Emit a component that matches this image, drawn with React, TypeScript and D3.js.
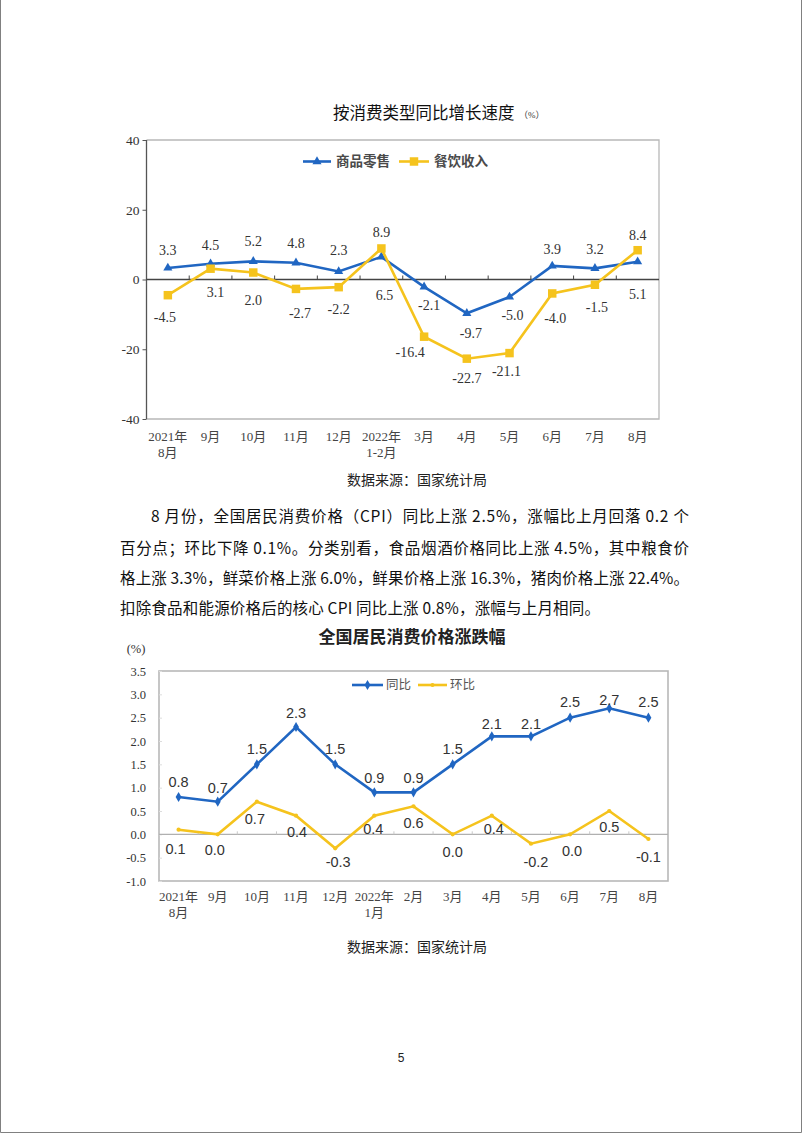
import React, { useEffect, useRef } from 'react';
import * as d3 from 'd3';

// chart 1: 按消费类型同比增长速度
const months1 = [
  ['2021年', '8月'], ['9月'], ['10月'], ['11月'], ['12月'], ['2022年', '1-2月'],
  ['3月'], ['4月'], ['5月'], ['6月'], ['7月'], ['8月'],
];
const retail = [3.3, 4.5, 5.2, 4.8, 2.3, 6.5, -2.1, -9.7, -5.0, 3.9, 3.2, 5.1];
const catering = [-4.5, 3.1, 2.0, -2.7, -2.2, 8.9, -16.4, -22.7, -21.1, -4.0, -1.5, 8.4];
const yTicks1 = [-40, -20, 0, 20, 40];

// chart 2: 全国居民消费价格涨跌幅
const months2 = [
  ['2021年', '8月'], ['9月'], ['10月'], ['11月'], ['12月'], ['2022年', '1月'],
  ['2月'], ['3月'], ['4月'], ['5月'], ['6月'], ['7月'], ['8月'],
];
const yoy = [0.8, 0.7, 1.5, 2.3, 1.5, 0.9, 0.9, 1.5, 2.1, 2.1, 2.5, 2.7, 2.5];
const mom = [0.1, 0.0, 0.7, 0.4, -0.3, 0.4, 0.6, 0.0, 0.4, -0.2, 0.0, 0.5, -0.1];
const yTicks2 = [-1.0, -0.5, 0.0, 0.5, 1.0, 1.5, 2.0, 2.5, 3.0, 3.5];

const paragraph = [
  '8 月份，全国居民消费价格（CPI）同比上涨 2.5%，涨幅比上月回落 0.2 个',
  '百分点；环比下降 0.1%。分类别看，食品烟酒价格同比上涨 4.5%，其中粮食价',
  '格上涨 3.3%，鲜菜价格上涨 6.0%，鲜果价格上涨 16.3%，猪肉价格上涨 22.4%。',
  '扣除食品和能源价格后的核心 CPI 同比上涨 0.8%，涨幅与上月相同。',
];

// label placement (dx, dy from the point), layout only
const retailOff = [[0, -18], [0, -19], [0, -20], [0, -20], [0, -21], [3, 38], [5, 18], [4, 20], [3, 18], [0, -17], [0, -19], [0, 32]];
const cateringOff = [[-3, 22], [5, 23], [0, 28], [4, 24], [0, 22], [0, -16], [-14, 15], [0, 19], [-3, 18], [3, 25], [2, 22], [0, -15]];
const yoyOff = [[0, -15], [0, -14], [0, -15], [0, -14], [0, -15], [0, -14], [0, -14], [0, -15], [0, -12], [0, -12], [0, -16], [0, -8], [0, -16]];
const momOff = [[-3, 19], [-3, 16], [-2, 17], [1, 16], [3, 14], [-1, 13], [0, 17], [0, 18], [2, 13], [5, 18], [2, 17], [0, 16], [0, 18]];

const BLUE = '#2066c2';
const YELLOW = '#f5c31d';
const SERIF = "'Liberation Serif', 'Noto Sans CJK SC', serif";
const SANS = "'Noto Sans CJK SC', 'Liberation Sans', sans-serif";
const fmt = (v: number) => v.toFixed(1);

const App = () => {
  const svgRef = useRef<SVGSVGElement>(null);

  useEffect(() => {
    const svg = d3.select(svgRef.current);
    svg.selectAll('*').remove();

    // page border
    svg.append('path')
      .attr('d', 'M0.5,0 V1132.5 H801.5 V0')
      .attr('fill', 'none')
      .attr('stroke', '#808080');

    // ---------- chart 1 ----------
    const c1 = { left: 146.5, right: 659, top: 140, bottom: 419 };
    const x1 = d3.scaleBand<number>().domain(d3.range(months1.length)).range([c1.left, c1.right]);
    const y1 = d3.scaleLinear().domain([-40, 40]).range([c1.bottom, c1.top]);
    const cx1 = (i: number) => (x1(i) as number) + x1.bandwidth() / 2;

    const g1 = svg.append('g');

    g1.append('text')
      .attr('x', 333).attr('y', 119)
      .attr('font-family', SERIF).attr('font-size', 16.5).attr('fill', '#111')
      .text('按消费类型同比增长速度');
    g1.append('text')
      .attr('x', 519).attr('y', 118)
      .attr('font-family', SERIF).attr('font-size', 9).attr('fill', '#333')
      .text('（%）');

    // frame
    g1.append('path')
      .attr('d', `M${c1.left},${c1.top} H${c1.right} V${c1.bottom} H${c1.left}`)
      .attr('fill', 'none').attr('stroke', '#b8b8b8').attr('stroke-width', 1.3);
    g1.append('line')
      .attr('x1', c1.left).attr('x2', c1.left).attr('y1', c1.top).attr('y2', c1.bottom)
      .attr('stroke', '#555').attr('stroke-width', 1.3);

    const ax1 = g1.append('g')
      .attr('transform', `translate(${c1.left},0)`)
      .call(d3.axisLeft(y1).tickValues(yTicks1).tickSize(4).tickPadding(3).tickFormat((d) => String(d)));
    ax1.select('.domain').remove();
    ax1.selectAll('line').attr('stroke', '#555');
    ax1.selectAll('text').attr('font-family', SERIF).attr('font-size', 13.5).attr('fill', '#333');

    // zero line with category ticks
    g1.append('line')
      .attr('x1', c1.left).attr('x2', c1.right).attr('y1', y1(0)).attr('y2', y1(0))
      .attr('stroke', '#444').attr('stroke-width', 1.3);
    g1.selectAll('.zt')
      .data(d3.range(1, months1.length))
      .enter().append('line')
      .attr('x1', (i) => x1(i) as number).attr('x2', (i) => x1(i) as number)
      .attr('y1', y1(0)).attr('y2', y1(0) - 4)
      .attr('stroke', '#444');

    // x labels
    months1.forEach((lines, i) => {
      lines.forEach((t, k) => {
        g1.append('text')
          .attr('x', cx1(i)).attr('y', 440.5 + k * 16)
          .attr('text-anchor', 'middle')
          .attr('font-family', SERIF).attr('font-size', 13).attr('fill', '#444')
          .text(t);
      });
    });

    const line1 = d3.line<number>().x((_, i) => cx1(i)).y((d) => y1(d));

    g1.append('path').datum(retail)
      .attr('fill', 'none').attr('stroke', BLUE).attr('stroke-width', 2.6).attr('d', line1);
    g1.selectAll('.tri').data(retail).enter().append('path')
      .attr('d', d3.symbol(d3.symbolTriangle, 36)())
      .attr('transform', (d, i) => `translate(${cx1(i)},${y1(d)})`)
      .attr('fill', BLUE);

    g1.append('path').datum(catering)
      .attr('fill', 'none').attr('stroke', YELLOW).attr('stroke-width', 2.6).attr('d', line1);
    g1.selectAll('.sq').data(catering).enter().append('path')
      .attr('d', d3.symbol(d3.symbolSquare, 72)())
      .attr('transform', (d, i) => `translate(${cx1(i)},${y1(d)})`)
      .attr('fill', YELLOW);

    const labels1 = (vals: number[], off: number[][]) => {
      g1.selectAll(null).data(vals).enter().append('text')
        .attr('x', (d, i) => cx1(i) + off[i][0])
        .attr('y', (d, i) => y1(d) + off[i][1])
        .attr('dy', '0.35em')
        .attr('text-anchor', 'middle')
        .attr('font-family', SERIF).attr('font-size', 14).attr('fill', '#333')
        .text((d) => fmt(d));
    };
    labels1(retail, retailOff);
    labels1(catering, cateringOff);

    // legend 1
    const lg1 = g1.append('g').attr('transform', 'translate(0,161.5)');
    lg1.append('line').attr('x1', 303).attr('x2', 331).attr('stroke', BLUE).attr('stroke-width', 2.6);
    lg1.append('path').attr('d', d3.symbol(d3.symbolTriangle, 36)()).attr('transform', 'translate(317,0)').attr('fill', BLUE);
    lg1.append('text').attr('x', 336).attr('dy', '0.35em')
      .attr('font-family', SANS).attr('font-size', 13.5).attr('font-weight', 'bold').attr('fill', '#4a4a4a')
      .text('商品零售');
    lg1.append('line').attr('x1', 399).attr('x2', 429).attr('stroke', YELLOW).attr('stroke-width', 2.6);
    lg1.append('path').attr('d', d3.symbol(d3.symbolSquare, 72)()).attr('transform', 'translate(414,0)').attr('fill', YELLOW);
    lg1.append('text').attr('x', 434).attr('dy', '0.35em')
      .attr('font-family', SANS).attr('font-size', 13.5).attr('font-weight', 'bold').attr('fill', '#4a4a4a')
      .text('餐饮收入');

    svg.append('text')
      .attr('x', 417).attr('y', 485).attr('text-anchor', 'middle')
      .attr('font-family', SERIF).attr('font-size', 14).attr('fill', '#222')
      .text('数据来源：国家统计局');

    // ---------- paragraph ----------
    const paraX = [151, 120, 120, 120];
    const paraW = [538, 569, 569, 480];
    const paraY = [522, 553.5, 584, 613.5];
    paragraph.forEach((t, i) => {
      svg.append('text')
        .attr('x', paraX[i]).attr('y', paraY[i])
        .attr('textLength', paraW[i]).attr('lengthAdjust', 'spacing')
        .attr('font-family', "'Noto Sans CJK SC', sans-serif").attr('font-size', 15.5).attr('fill', '#111')
        .text(t);
    });

    // ---------- chart 2 ----------
    const c2 = { left: 159, right: 668, top: 671, bottom: 881 };
    const x2 = d3.scaleBand<number>().domain(d3.range(months2.length)).range([c2.left, c2.right]);
    const y2 = d3.scaleLinear().domain([-1, 3.5]).range([c2.bottom, c2.top]);
    const cx2 = (i: number) => (x2(i) as number) + x2.bandwidth() / 2;

    const g2 = svg.append('g');

    g2.append('text')
      .attr('x', 412).attr('y', 643).attr('text-anchor', 'middle')
      .attr('font-family', SANS).attr('font-size', 17).attr('font-weight', 'bold').attr('fill', '#222')
      .text('全国居民消费价格涨跌幅');
    g2.append('text')
      .attr('x', 136).attr('y', 652.5).attr('text-anchor', 'middle')
      .attr('font-family', SERIF).attr('font-size', 12.5).attr('fill', '#333')
      .text('(%)');

    g2.append('rect')
      .attr('x', c2.left).attr('y', c2.top)
      .attr('width', c2.right - c2.left).attr('height', c2.bottom - c2.top)
      .attr('fill', 'none').attr('stroke', '#b8b8b8').attr('stroke-width', 1.6);

    const ax2 = g2.append('g')
      .attr('transform', `translate(${c2.left},0)`)
      .call(d3.axisLeft(y2).tickValues(yTicks2).tickSize(-3).tickPadding(13).tickFormat((d) => fmt(d as number)));
    ax2.select('.domain').remove();
    ax2.selectAll('line').attr('stroke', '#ddd');
    ax2.selectAll('text').attr('font-family', SERIF).attr('font-size', 12.5).attr('fill', '#333');

    g2.append('line')
      .attr('x1', c2.left).attr('x2', c2.right).attr('y1', y2(0)).attr('y2', y2(0))
      .attr('stroke', '#b0b0b0').attr('stroke-width', 1.3);
    g2.selectAll('.zt')
      .data(d3.range(1, months2.length))
      .enter().append('line')
      .attr('x1', (i) => x2(i) as number).attr('x2', (i) => x2(i) as number)
      .attr('y1', y2(0)).attr('y2', y2(0) - 3)
      .attr('stroke', '#c8c8c8');

    months2.forEach((lines, i) => {
      lines.forEach((t, k) => {
        g2.append('text')
          .attr('x', cx2(i)).attr('y', 901 + k * 16)
          .attr('text-anchor', 'middle')
          .attr('font-family', SERIF).attr('font-size', 13).attr('fill', '#444')
          .text(t);
      });
    });

    const line2 = d3.line<number>().x((_, i) => cx2(i)).y((d) => y2(d));

    g2.append('path').datum(mom)
      .attr('fill', 'none').attr('stroke', YELLOW).attr('stroke-width', 2.6).attr('d', line2);
    g2.selectAll('.mc').data(mom).enter().append('path')
      .attr('d', d3.symbol(d3.symbolCircle, 14)())
      .attr('transform', (d, i) => `translate(${cx2(i)},${y2(d)})`)
      .attr('fill', YELLOW);

    g2.append('path').datum(yoy)
      .attr('fill', 'none').attr('stroke', BLUE).attr('stroke-width', 2.6).attr('d', line2);
    g2.selectAll('.yd').data(yoy).enter().append('path')
      .attr('d', d3.symbol(d3.symbolDiamond, 30)())
      .attr('transform', (d, i) => `translate(${cx2(i)},${y2(d)})`)
      .attr('fill', BLUE);

    const labels2 = (vals: number[], off: number[][]) => {
      g2.selectAll(null).data(vals).enter().append('text')
        .attr('x', (d, i) => cx2(i) + off[i][0])
        .attr('y', (d, i) => y2(d) + off[i][1])
        .attr('dy', '0.35em')
        .attr('text-anchor', 'middle')
        .attr('font-family', "'Liberation Sans', Arial, sans-serif").attr('font-size', 14.5).attr('fill', '#333')
        .text((d) => fmt(d));
    };
    labels2(yoy, yoyOff);
    labels2(mom, momOff);

    const lg2 = g2.append('g').attr('transform', 'translate(0,685)');
    lg2.append('line').attr('x1', 352).attr('x2', 383).attr('stroke', BLUE).attr('stroke-width', 2.6);
    lg2.append('path').attr('d', d3.symbol(d3.symbolDiamond, 30)()).attr('transform', 'translate(367.5,0)').attr('fill', BLUE);
    lg2.append('text').attr('x', 386).attr('dy', '0.35em')
      .attr('font-family', SANS).attr('font-size', 12.5).attr('fill', '#555')
      .text('同比');
    lg2.append('line').attr('x1', 418).attr('x2', 447).attr('stroke', YELLOW).attr('stroke-width', 2.6);
    lg2.append('path').attr('d', d3.symbol(d3.symbolCircle, 14)()).attr('transform', 'translate(432.5,0)').attr('fill', YELLOW);
    lg2.append('text').attr('x', 450).attr('dy', '0.35em')
      .attr('font-family', SANS).attr('font-size', 12.5).attr('fill', '#555')
      .text('环比');

    svg.append('text')
      .attr('x', 417).attr('y', 951.5).attr('text-anchor', 'middle')
      .attr('font-family', SERIF).attr('font-size', 14).attr('fill', '#222')
      .text('数据来源：国家统计局');

    svg.append('text')
      .attr('x', 401).attr('y', 1062).attr('text-anchor', 'middle')
      .attr('font-family', "'Liberation Sans', sans-serif").attr('font-size', 12).attr('fill', '#222')
      .text('5');
  }, []);

  return (
    <svg
      ref={svgRef}
      width={802}
      height={1133}
      style={{ position: 'absolute', left: 0, top: 0, background: '#fff' }}
    />
  );
};

export default App;
